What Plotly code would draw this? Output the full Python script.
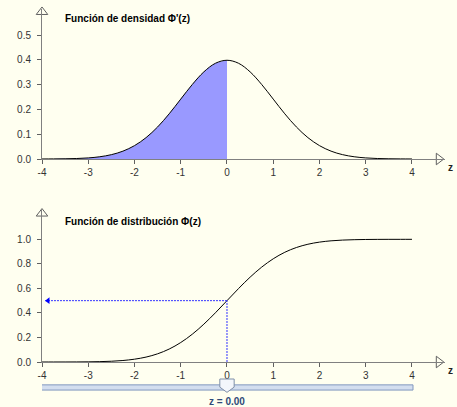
import plotly.graph_objects as go

# ---- data ----
z_vals = [-4.0, -3.75, -3.5, -3.25, -3.0, -2.75, -2.5, -2.25, -2.0, -1.75, -1.5, -1.25,
          -1.0, -0.75, -0.5, -0.25, 0.0, 0.25, 0.5, 0.75, 1.0, 1.25, 1.5, 1.75,
          2.0, 2.25, 2.5, 2.75, 3.0, 3.25, 3.5, 3.75, 4.0]
density = [0.0001, 0.0004, 0.0009, 0.0020, 0.0044, 0.0091, 0.0175, 0.0317, 0.0540, 0.0863,
           0.1295, 0.1826, 0.2420, 0.3011, 0.3521, 0.3867, 0.3989, 0.3867, 0.3521, 0.3011,
           0.2420, 0.1826, 0.1295, 0.0863, 0.0540, 0.0317, 0.0175, 0.0091, 0.0044, 0.0020,
           0.0009, 0.0004, 0.0001]
distribution = [0.0000, 0.0001, 0.0002, 0.0006, 0.0013, 0.0030, 0.0062, 0.0122, 0.0228, 0.0401,
                0.0668, 0.1056, 0.1587, 0.2266, 0.3085, 0.4013, 0.5000, 0.5987, 0.6915, 0.7734,
                0.8413, 0.8944, 0.9332, 0.9599, 0.9772, 0.9878, 0.9938, 0.9970, 0.9987, 0.9994,
                0.9998, 0.9999, 1.0000]
z_current = 0.0
phi_current = 0.5
x_ticks = [-4, -3, -2, -1, 0, 1, 2, 3, 4]
x_labels = ["-4", "-3", "-2", "-1", "0", "1", "2", "3", "4"]
y1_ticks = [0.0, 0.1, 0.2, 0.3, 0.4, 0.5]
y1_labels = ["0.0", "0.1", "0.2", "0.3", "0.4", "0.5"]
y2_ticks = [0.0, 0.2, 0.4, 0.6, 0.8, 1.0]
y2_labels = ["0.0", "0.2", "0.4", "0.6", "0.8", "1.0"]
title_top = "Función de densidad Φ'(z)"
title_bottom = "Función de distribución Φ(z)"

W, H = 457, 407
BG = "#FFFFF0"
AX = "#808080"
FONT = "Liberation Sans"

fig = go.Figure()

# shaded area under density up to z_current
zs = [z for z in z_vals if z <= z_current]
ds = [d for z, d in zip(z_vals, density) if z <= z_current]
fig.add_trace(go.Scatter(x=zs, y=ds, mode="lines", fill="tozeroy",
                         fillcolor="#9999FF", line=dict(width=0, color="#9999FF", shape="spline"),
                         xaxis="x", yaxis="y", hoverinfo="skip"))
# density curve
fig.add_trace(go.Scatter(x=z_vals, y=density, mode="lines",
                         line=dict(color="black", width=1, shape="spline"),
                         xaxis="x", yaxis="y"))
# distribution curve
fig.add_trace(go.Scatter(x=z_vals, y=distribution, mode="lines",
                         line=dict(color="black", width=1, shape="spline"),
                         xaxis="x2", yaxis="y2"))
# dotted guide lines
fig.add_trace(go.Scatter(x=[z_current, z_current], y=[0, phi_current], mode="lines",
                         line=dict(color="#3333FF", width=1, dash="2px,1px"),
                         xaxis="x2", yaxis="y2"))
fig.add_trace(go.Scatter(x=[z_current, -3.93], y=[phi_current, phi_current], mode="lines",
                         line=dict(color="#3333FF", width=1, dash="2px,1px"),
                         xaxis="x2", yaxis="y2"))
fig.add_trace(go.Scatter(x=[-3.87], y=[phi_current], mode="markers",
                         marker=dict(symbol="triangle-left", size=6, color="#0000FF"),
                         xaxis="x2", yaxis="y2", cliponaxis=False))

# axis arrowheads
for xa, ya, ytop in (("x", "y", 0.594), ("x2", "y2", 1.21)):
    fig.add_trace(go.Scatter(x=[-4], y=[ytop], mode="markers",
                             marker=dict(symbol="triangle-up", size=10, color=BG,
                                         line=dict(color="#606060", width=1)),
                             xaxis=xa, yaxis=ya, cliponaxis=False))
    fig.add_trace(go.Scatter(x=[4.58], y=[0], mode="markers",
                             marker=dict(symbol="triangle-right", size=10, color=BG,
                                         line=dict(color="#606060", width=1)),
                             xaxis=xa, yaxis=ya, cliponaxis=False))

xdom = [42 / W, 445 / W]
xrange = [-4, 4.714]
common_x = dict(domain=xdom, range=xrange, tickvals=x_ticks, ticktext=x_labels,
                ticks="outside", ticklen=4,
                tickcolor="#606060", showline=True, linecolor=AX, linewidth=1,
                showgrid=False, zeroline=False, fixedrange=True, automargin=False,
                tickfont=dict(family=FONT, size=10, color="#333333"))
common_y = dict(ticks="outside", ticklen=4, tickcolor="#606060", showline=True,
                linecolor=AX, linewidth=1, showgrid=False, zeroline=False,
                fixedrange=True, ticklabelstandoff=4, automargin=False,
                tickfont=dict(family=FONT, size=10, color="#333333"))

# slider handle outline (house shape pointing down), placed at z_current
hw = 0.155
handle_path = ("M {a},0.86 L {b},0.86 L {b},0.61 L {c},0.45 L {a},0.61 Z"
               .format(a=z_current - hw, b=z_current + hw, c=z_current))

fig.update_layout(
    width=W, height=H, autosize=False,
    margin=dict(l=0, r=0, t=0, b=0, pad=0, autoexpand=False),
    paper_bgcolor=BG, plot_bgcolor=BG,
    showlegend=False,
    xaxis=dict(anchor="y", **common_x),
    yaxis=dict(anchor="x", domain=[(H - 159) / H, (H - 9) / H], range=[0, 0.606],
               tickvals=y1_ticks, ticktext=y1_labels, **common_y),
    xaxis2=dict(anchor="y2", **common_x),
    yaxis2=dict(anchor="x2", domain=[(H - 362) / H, (H - 210) / H], range=[0, 1.239],
                tickvals=y2_ticks, ticktext=y2_labels, **common_y),
    xaxis3=dict(anchor="y3", domain=xdom, range=xrange, visible=False, fixedrange=True),
    yaxis3=dict(anchor="x3", domain=[0, 32.56 / H], range=[0, 1], visible=False, fixedrange=True),
    shapes=[
        dict(type="rect", xref="x3", yref="y3", x0=-4.065, x1=4.022, y0=0.52, y1=0.68,
             fillcolor="#D3DEEF", line=dict(color="#8298BE", width=1), layer="above"),
        dict(type="path", xref="x3", yref="y3", path=handle_path,
             fillcolor="#F3F6FB", line=dict(color="#7F8FA8", width=1), layer="above"),
    ],
    annotations=[
        dict(text="<b>" + title_top + "</b>", xref="paper", yref="paper",
             x=63 / W, y=(H - 18) / H, xanchor="left", yanchor="middle", showarrow=False,
             font=dict(family=FONT, size=10, color="black")),
        dict(text="<b>" + title_bottom + "</b>", xref="paper", yref="paper",
             x=63 / W, y=(H - 222) / H, xanchor="left", yanchor="middle", showarrow=False,
             font=dict(family=FONT, size=10, color="black")),
        dict(text="<b>z</b>", xref="paper", yref="paper", x=450 / W, y=(H - 167) / H,
             xanchor="center", yanchor="middle", showarrow=False,
             font=dict(family=FONT, size=10, color="#222222")),
        dict(text="<b>z</b>", xref="paper", yref="paper", x=450 / W, y=(H - 370) / H,
             xanchor="center", yanchor="middle", showarrow=False,
             font=dict(family=FONT, size=10, color="#222222")),
        dict(text="<b>z = %.2f</b>" % z_current, xref="x3", yref="y3", x=z_current, y=0.17,
             xanchor="center", yanchor="middle", showarrow=False,
             font=dict(family=FONT, size=10, color="#2F4A78")),
    ],
)

fig.write_html("out.html", config={"displayModeBar": False, "responsive": False},
               post_script="document.body.style.margin='0';document.body.style.overflow='hidden';")
